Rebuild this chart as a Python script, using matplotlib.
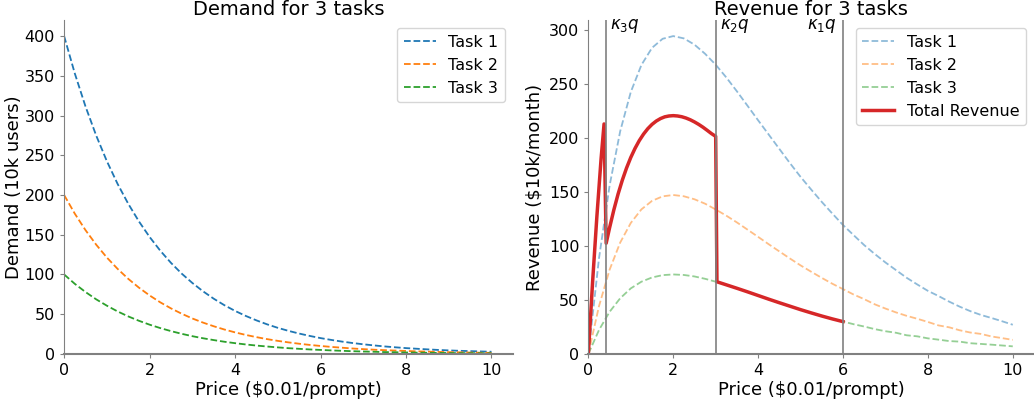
# demand and revenue for 3 tasks
import numpy as np
import matplotlib
matplotlib.use('Agg')
import matplotlib.pyplot as plt

# price grid ($0.01/prompt)
price = np.arange(0, 10.01, 0.25)

# demand (10k users)
demand1 = [400, 353.0, 311.5, 274.9, 242.6, 214.1, 189.0, 166.8, 147.2, 129.9, 114.6,
           101.1, 89.3, 78.8, 69.5, 61.3, 54.1, 47.8, 42.2, 37.2, 32.8, 29.0, 25.6, 22.6,
           19.9, 17.6, 15.5, 13.7, 12.1, 10.7, 9.4, 8.3, 7.3, 6.5, 5.7, 5.0, 4.4, 3.9, 3.5,
           3.1, 2.7]
demand2 = [200, 176.5, 155.8, 137.5, 121.3, 107.1, 94.5, 83.4, 73.6, 64.9, 57.3, 50.6,
           44.6, 39.4, 34.8, 30.7, 27.1, 23.9, 21.1, 18.6, 16.4, 14.5, 12.8, 11.3, 10.0, 8.8,
           7.8, 6.8, 6.0, 5.3, 4.7, 4.2, 3.7, 3.2, 2.9, 2.5, 2.2, 2.0, 1.7, 1.5, 1.3]
demand3 = [100, 88.2, 77.9, 68.7, 60.7, 53.5, 47.2, 41.7, 36.8, 32.5, 28.7, 25.3, 22.3,
           19.7, 17.4, 15.3, 13.5, 11.9, 10.5, 9.3, 8.2, 7.2, 6.4, 5.6, 5.0, 4.4, 3.9, 3.4,
           3.0, 2.7, 2.3, 2.1, 1.8, 1.6, 1.4, 1.3, 1.1, 1.0, 0.9, 0.8, 0.7]

# total revenue curve (red)
total_price = [0, 0.1, 0.2, 0.3, 0.37,
               0.42, 0.5, 0.6, 0.7, 0.8, 0.9, 1.0, 1.1, 1.2, 1.3, 1.4, 1.5, 1.6, 1.7,
               1.8, 1.9, 2.0, 2.1, 2.2, 2.3, 2.4, 2.5, 2.6, 2.7, 2.8, 2.9, 3.0,
               3.03, 3.25, 3.5, 3.75, 4.0, 4.25, 4.5, 4.75, 5.0, 5.25, 5.5, 5.75, 6.0]
total_rev = [0, 66.6, 126.7, 180.7, 213,
             102.5, 116.8, 133.3, 148.0, 160.9, 172.2, 182.0, 190.4, 197.6, 203.6, 208.6,
             212.6, 215.7, 218.0, 219.6, 220.4, 220.7, 220.4, 219.7, 218.5, 216.9, 214.9,
             212.6, 210.0, 207.1, 204.1, 201.5,
             66.8, 64.0, 60.8, 57.5, 54.1, 50.7, 47.4, 44.2, 41.0, 38.0, 35.1, 32.4, 29.9]

# thresholds
kappa_x = [0.42, 3.0, 6.0]
kappa_lbl = [r'$\kappa_3 q$', r'$\kappa_2 q$', r'$\kappa_1 q$']

labels = ['Task 1', 'Task 2', 'Task 3']
colors = ['tab:blue', 'tab:orange', 'tab:green']
demands = [demand1, demand2, demand3]

fig = plt.figure(figsize=(10.34, 4.04), dpi=100)
ax1 = fig.add_axes([0.062, 0.124, 0.434, 0.826])
ax2 = fig.add_axes([0.569, 0.124, 0.431, 0.826])

for d, lab, c in zip(demands, labels, colors):
    ax1.plot(price, d, '--', color=c, lw=1.3, label=lab)

for d, lab, c in zip(demands, labels, colors):
    ax2.plot(price, price * np.array(d), '--', color=c, lw=1.3, alpha=0.5, label=lab)
ax2.plot(total_price, total_rev, color='tab:red', lw=2.5, label='Total Revenue')

for i, (x, t) in enumerate(zip(kappa_x, kappa_lbl)):
    ax2.axvline(x, color='gray', lw=1.2)
    if i == 2:
        # last label sits left of its line, clear of the legend
        ax2.text(x - 0.15, 304, t, fontsize=12, va='center', ha='right')
    else:
        ax2.text(x + 0.1, 304, t, fontsize=12, va='center')

for ax in (ax1, ax2):
    ax.set_xlim(left=0)
    ax.set_ylim(bottom=0)
    ax.spines['top'].set_visible(False)
    ax.spines['right'].set_visible(False)
    ax.spines['left'].set_color('gray')
    ax.spines['bottom'].set_color('gray')
    ax.spines['bottom'].set_linewidth(1.5)
    ax.tick_params(labelsize=11.5, color='gray', length=3)
    ax.set_xlabel('Price ($0.01/prompt)', fontsize=13, labelpad=2)
    ax.legend(loc='upper right', fontsize=11.5)

ax1.set_ylabel('Demand (10k users)', fontsize=13, labelpad=1)
ax2.set_ylabel('Revenue ($10k/month)', fontsize=13)
ax1.set_title('Demand for 3 tasks', fontsize=14, pad=4)
ax2.set_title('Revenue for 3 tasks', fontsize=14, pad=4)

plt.savefig('out.png', dpi=100)
